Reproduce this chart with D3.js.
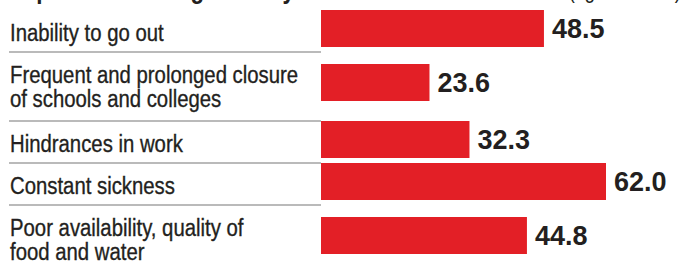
<!DOCTYPE html>
<meta charset="utf-8">
<style>
  body { margin: 0; background: #fff; }
  svg { display: block; }
</style>
<body>
<script src="https://cdn.jsdelivr.net/npm/d3@7/dist/d3.min.js"></script>
<script>

    // chart data
    var title = "Impact of flooding on daily life";
    var unitNote = "(figures in %)";
    var categories = [
        ["Inability to go out"],
        ["Frequent and prolonged closure", "of schools and colleges"],
        ["Hindrances in work"],
        ["Constant sickness"],
        ["Poor availability, quality of", "food and water"]
    ];
    var values = [48.5, 23.6, 32.3, 62.0, 44.8];

    var width = 686,
        height = 262;

    // no narrow font installed: squeeze Liberation Sans horizontally
    var font = "'Liberation Sans', Arial, sans-serif";
    var squeeze = 0.83;

    var svg = d3.select("body").append("svg")
            .attr("width", width)
            .attr("height", height);

    var x = d3.scaleLinear()
            .domain([0, d3.max(values)])
            .range([321, 606]);

    // row heights depend on how many lines the label takes
    var lineH = 24;
    var rows = [];
    var rowTop = 10;
    categories.forEach(function(lines, i) {
        var h = 42 + 27 * (lines.length - 1);
        rows.push({lines: lines, value: values[i], y0: rowTop, h: h,
                   mid: rowTop + 18.5 + 12 * (lines.length - 1)});
        rowTop += h;
    });

    // cut-off headline at the very top
    svg.append("text")
            .attr("transform", "translate(10,-2.5) scale(" + squeeze + ",1)")
            .style("font-family", font)
            .style("font-weight", "bold")
            .style("font-size", "27px")
            .attr("fill", "#231f20")
            .text(title);

    svg.append("text")
            .attr("transform", "translate(681,-2.5) scale(" + squeeze + ",1)")
            .attr("text-anchor", "end")
            .style("font-family", font)
            .style("font-size", "23px")
            .attr("fill", "#231f20")
            .text(unitNote);

    var row = svg.selectAll("g.row")
            .data(rows)
            .enter().append("g")
            .attr("class", "row");

    row.append("line")
            .attr("x1", 9)
            .attr("x2", x(0))
            .attr("y1", function(d) { return d.y0 + d.h; })
            .attr("y2", function(d) { return d.y0 + d.h; })
            .attr("stroke", "#a3a3a3")
            .attr("stroke-width", 1.6);

    var label = row.append("text")
            .attr("transform", function(d) {
                return "translate(10," + (d.y0 + 31) + ") scale(" + squeeze + ",1)";
            })
            .style("font-family", font)
            .style("font-size", "24.5px")
            .attr("fill", "#231f20")
            .attr("stroke", "#231f20")
            .attr("stroke-width", 0.35);

    label.selectAll("tspan")
            .data(function(d) { return d.lines; })
            .enter().append("tspan")
            .attr("x", 0)
            .attr("dy", function(d, i) { return i ? lineH : 0; })
            .text(function(d) { return d; });

    row.append("rect")
            .attr("x", x(0))
            .attr("y", function(d) { return d.mid - 18.5; })
            .attr("width", function(d) { return x(d.value) - x(0); })
            .attr("height", 37)
            .attr("fill", "#e31f26");

    row.append("text")
            .attr("x", function(d) { return x(d.value) + 8; })
            .attr("y", function(d) { return d.mid; })
            .attr("dy", "0.36em")
            .style("font-family", font)
            .style("font-weight", "bold")
            .style("font-size", "27px")
            .attr("fill", "#231f20")
            .text(function(d) { return d3.format(".1f")(d.value); });

</script>
